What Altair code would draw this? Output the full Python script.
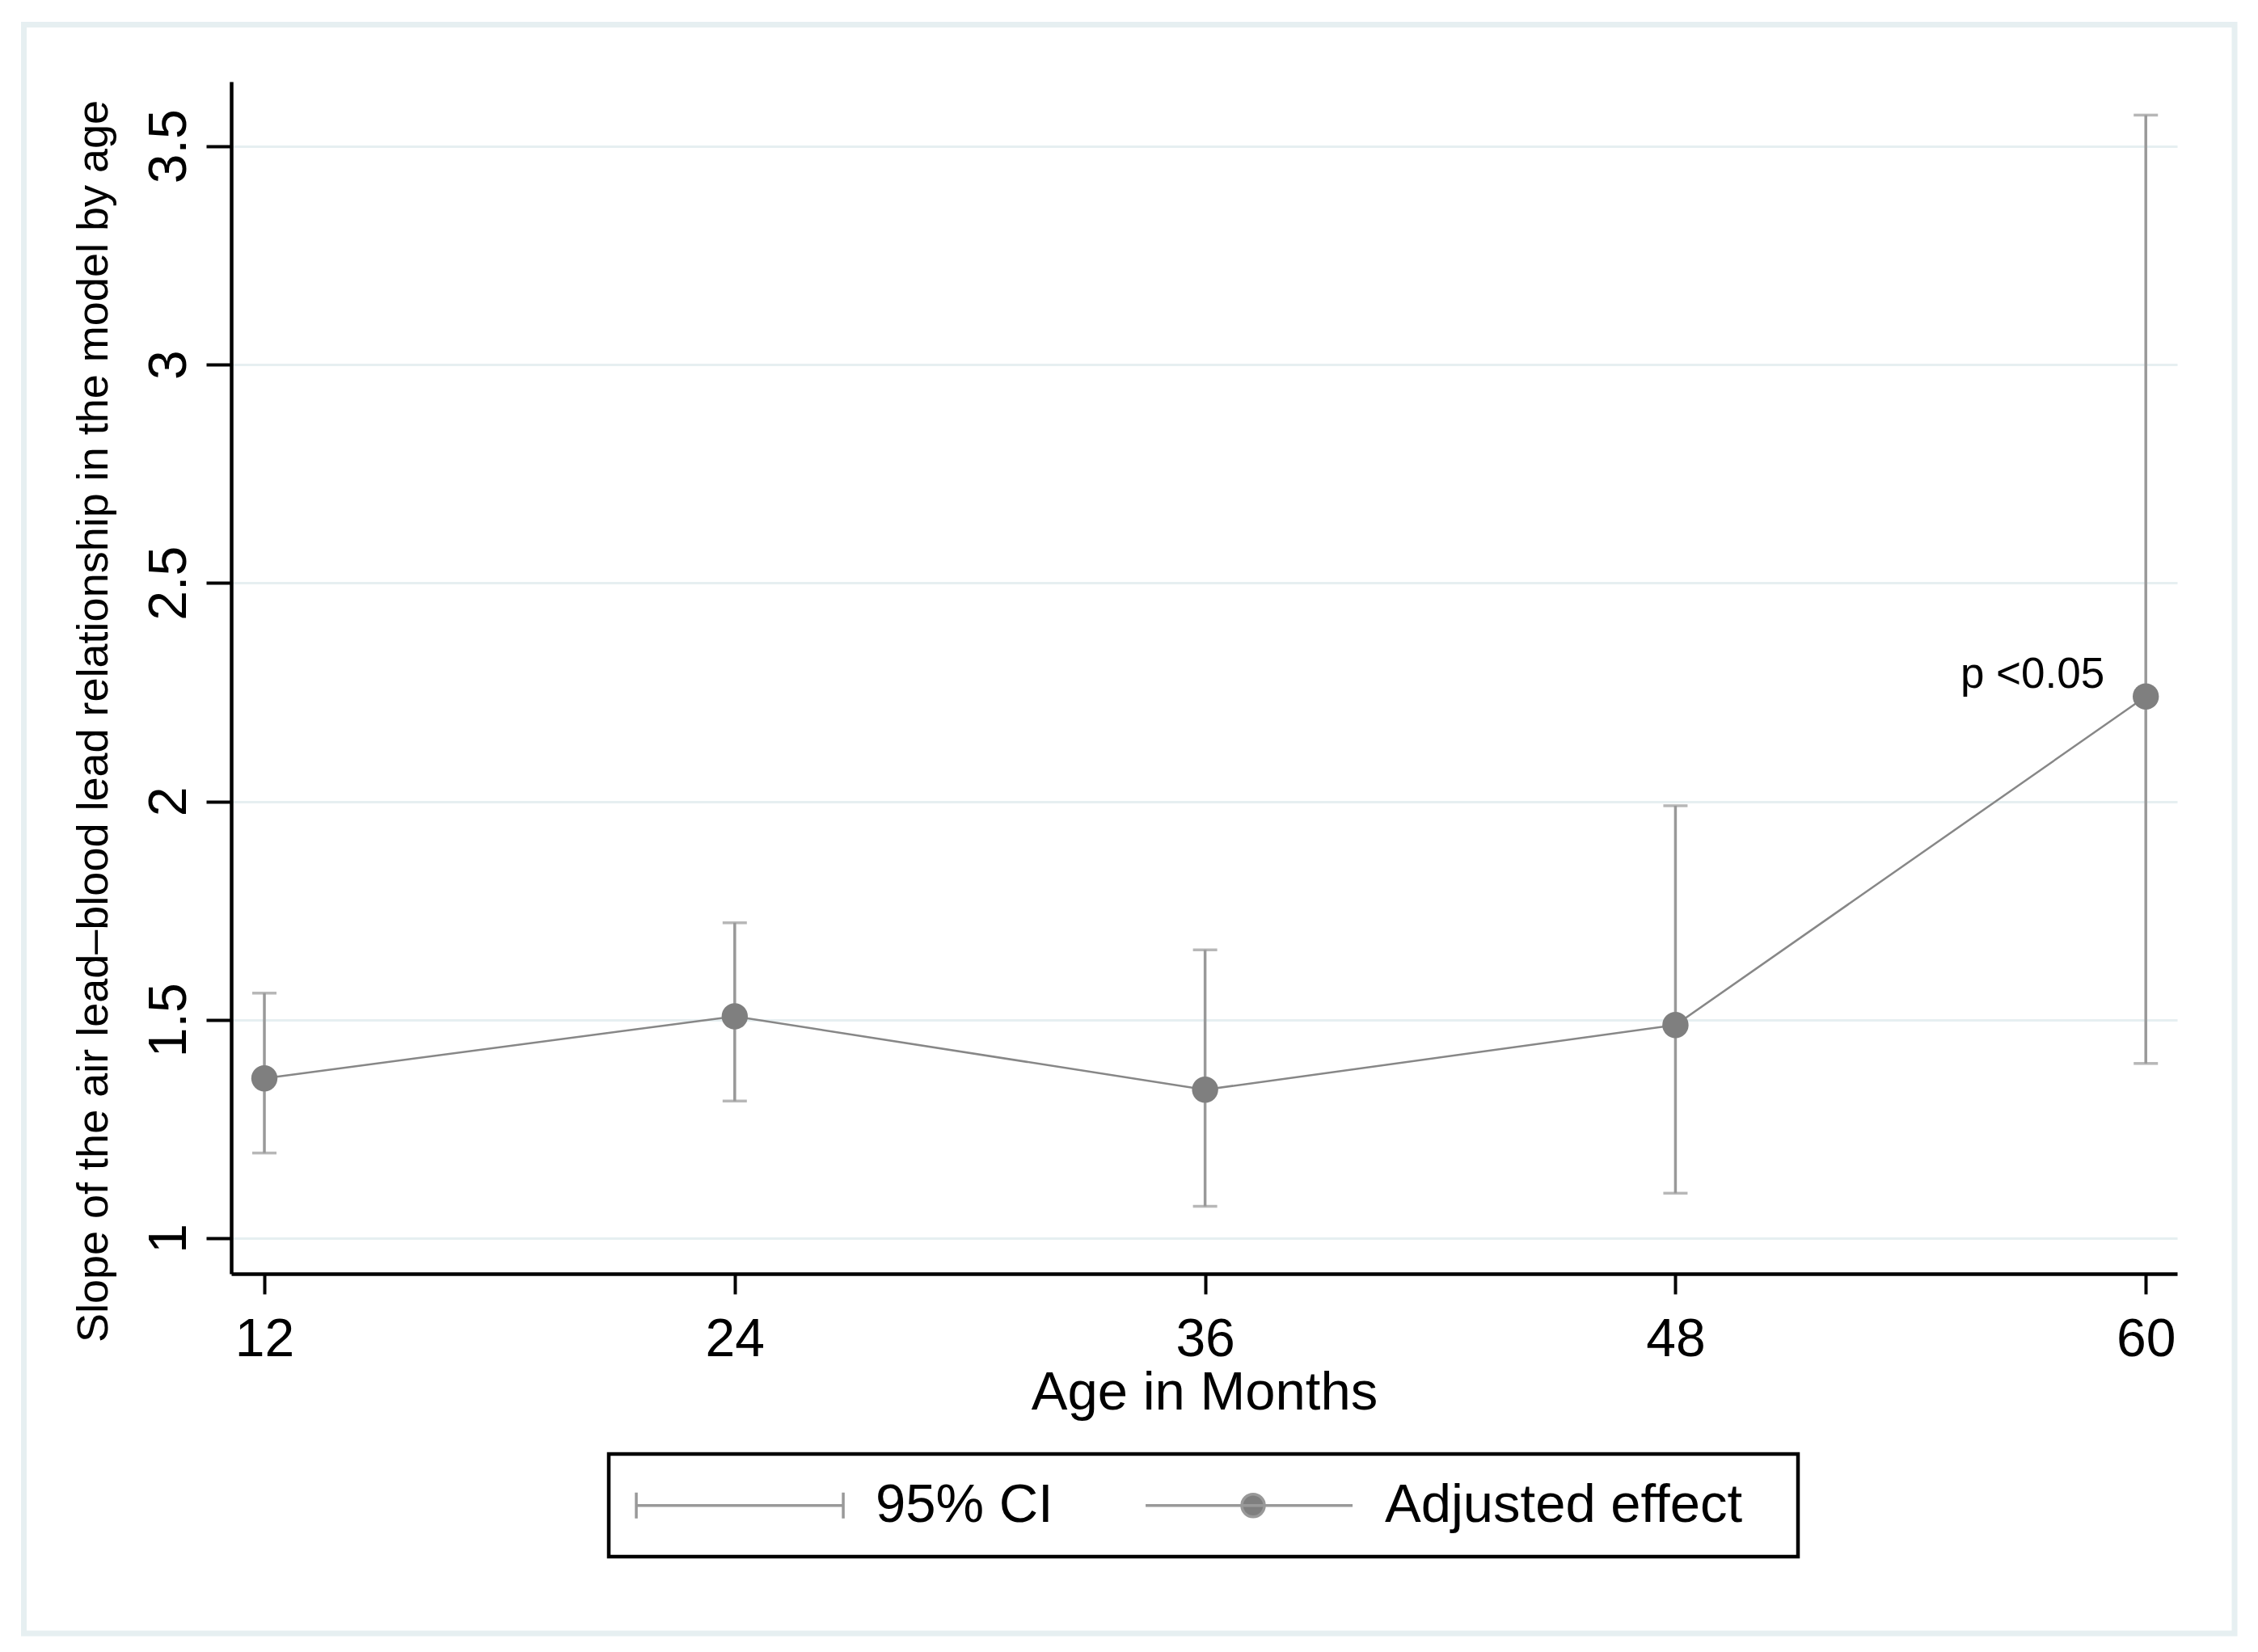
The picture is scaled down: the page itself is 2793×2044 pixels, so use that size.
import altair as alt
import pandas as pd

# ---- data ----
ages = [12, 24, 36, 48, 60]
effect = [1.366, 1.508, 1.340, 1.488, 2.240]
ci_low = [1.195, 1.314, 1.073, 1.103, 1.400]
ci_high = [1.561, 1.722, 1.660, 1.990, 3.571]

x_ticks = [12, 24, 36, 48, 60]
y_ticks = [1, 1.5, 2, 2.5, 3, 3.5]

legend_labels = ["95% CI", "Adjusted effect"]

ann_age = [60]
ann_val = [2.240]
ann_text = ["p <0.05"]

y_title = "Slope of the air lead\u2013blood lead relationship in the model by age"
x_title = "Age in Months"

df = pd.DataFrame({"age": ages, "effect": effect, "lo": ci_low, "hi": ci_high,
                   "series": ["Adjusted effect"] * len(ages)})
ann = pd.DataFrame({"age": ann_age, "val": ann_val, "txt": ann_text})

FONT = "Liberation Sans"
CI_COL = "#999999"
LINE_COL = "#878787"
PT_COL = "#7f7f7f"
GRID_COL = "#e6eff1"

xscale = alt.Scale(domain=[11.154, 60.80], nice=False, zero=False)
yscale = alt.Scale(domain=[0.9186, 3.6476], nice=False, zero=False)

xaxis = alt.Axis(values=x_ticks, title=x_title, grid=False,
                 domainColor="black", domainWidth=4.5,
                 tickColor="black", tickWidth=4, tickSize=25,
                 labelFontSize=66, labelColor="black", labelPadding=24,
                 labelFont=FONT, titleFont=FONT, titleFontSize=67,
                 titleFontWeight="normal", titleColor="black",
                 titleBaseline="alphabetic", titleY=167, labelFlush=False)
yaxis = alt.Axis(values=y_ticks, title=y_title, grid=True, format=".1~f",
                 gridColor=GRID_COL, gridWidth=3,
                 domainColor="black", domainWidth=4.5,
                 tickColor="black", tickWidth=4, tickSize=31,
                 labelFontSize=66, labelColor="black", labelPadding=26,
                 labelAngle=270, labelAlign="center", labelBaseline="alphabetic",
                 labelFont=FONT, titleFont=FONT, titleFontSize=54,
                 titleFontWeight="normal", titleColor="black",
                 titleAngle=270, titleAlign="center", titleBaseline="alphabetic",
                 titleX=-154, titleY=791, labelFlush=False)

base = alt.Chart(df)

X = alt.X("age:Q", scale=xscale, axis=xaxis)

rules = base.mark_rule(color=CI_COL, strokeWidth=3.5).encode(
    x=X, y=alt.Y("lo:Q", scale=yscale, axis=yaxis), y2="hi:Q")
cap_lo = base.mark_tick(orient="horizontal", size=30, thickness=3.5, color=CI_COL).encode(
    x="age:Q", y="lo:Q")
cap_hi = base.mark_tick(orient="horizontal", size=30, thickness=3.5, color=CI_COL).encode(
    x="age:Q", y="hi:Q")
line = base.mark_line(color=LINE_COL, strokeWidth=2.5).encode(x="age:Q", y="effect:Q")
points = base.mark_point(filled=True, shape="circle", size=1050, color=PT_COL, opacity=1).encode(
    x="age:Q", y="effect:Q")

path_ci = "M-1.84,-1L-1.84,1M-1.84,0L14.16,0M14.16,-1L14.16,1"
path_eff = "M-1.84,0L14.16,0M7.345,0A0.875,0.875,0,1,1,5.595,0A0.875,0.875,0,1,1,7.345,0Z"

# invisible right-hand spacer title widens the legend box like the reference
legend_layer = base.mark_point(filled=False, color=CI_COL, fill=PT_COL, strokeWidth=3.5,
                               opacity=0).encode(
    x="age:Q", y="effect:Q",
    shape=alt.Shape("series:N",
                    scale=alt.Scale(domain=legend_labels, range=[path_ci, path_eff]),
                    legend=alt.Legend(title=".", titleOrient="right", titleFontSize=8,
                                      titleColor="white", titlePadding=36,
                                      orient="none", legendX=467, legendY=1698,
                                      direction="horizontal", labelLimit=2000)))

label = alt.Chart(ann).mark_text(align="right", baseline="alphabetic", dx=-51, dy=-11,
                                 fontSize=53, font=FONT, color="black").encode(
    x="age:Q", y="val:Q", text="txt:N")

frame = alt.Chart(pd.DataFrame({"k": [0]})).mark_rect(
    filled=False, color="#e6eff1", strokeWidth=7).encode(
    x=alt.value(-256.5), x2=alt.value(2478), y=alt.value(-70.5), y2=alt.value(1920))

chart = alt.layer(frame, rules, cap_lo, cap_hi, line, points, legend_layer, label).properties(
    width=2407, height=1475,
    autosize=alt.AutoSizeParams(type="none"),
    padding={"left": 278, "top": 93, "right": 80, "bottom": 455},
    background="white",
).configure(font=FONT).configure_view(stroke=None).configure_legend(
    labelFont=FONT, labelFontSize=67, labelColor="black", labelOffset=233,
    labelLimit=2000,
    symbolSize=1024, symbolStrokeWidth=3.5,
    symbolOpacity=1, columnPadding=107, padding=30,
    strokeColor="black", strokeWidth=4.5, fillColor="white",
)

chart.save("out.html", embed_options={"renderer": "svg", "actions": False})
